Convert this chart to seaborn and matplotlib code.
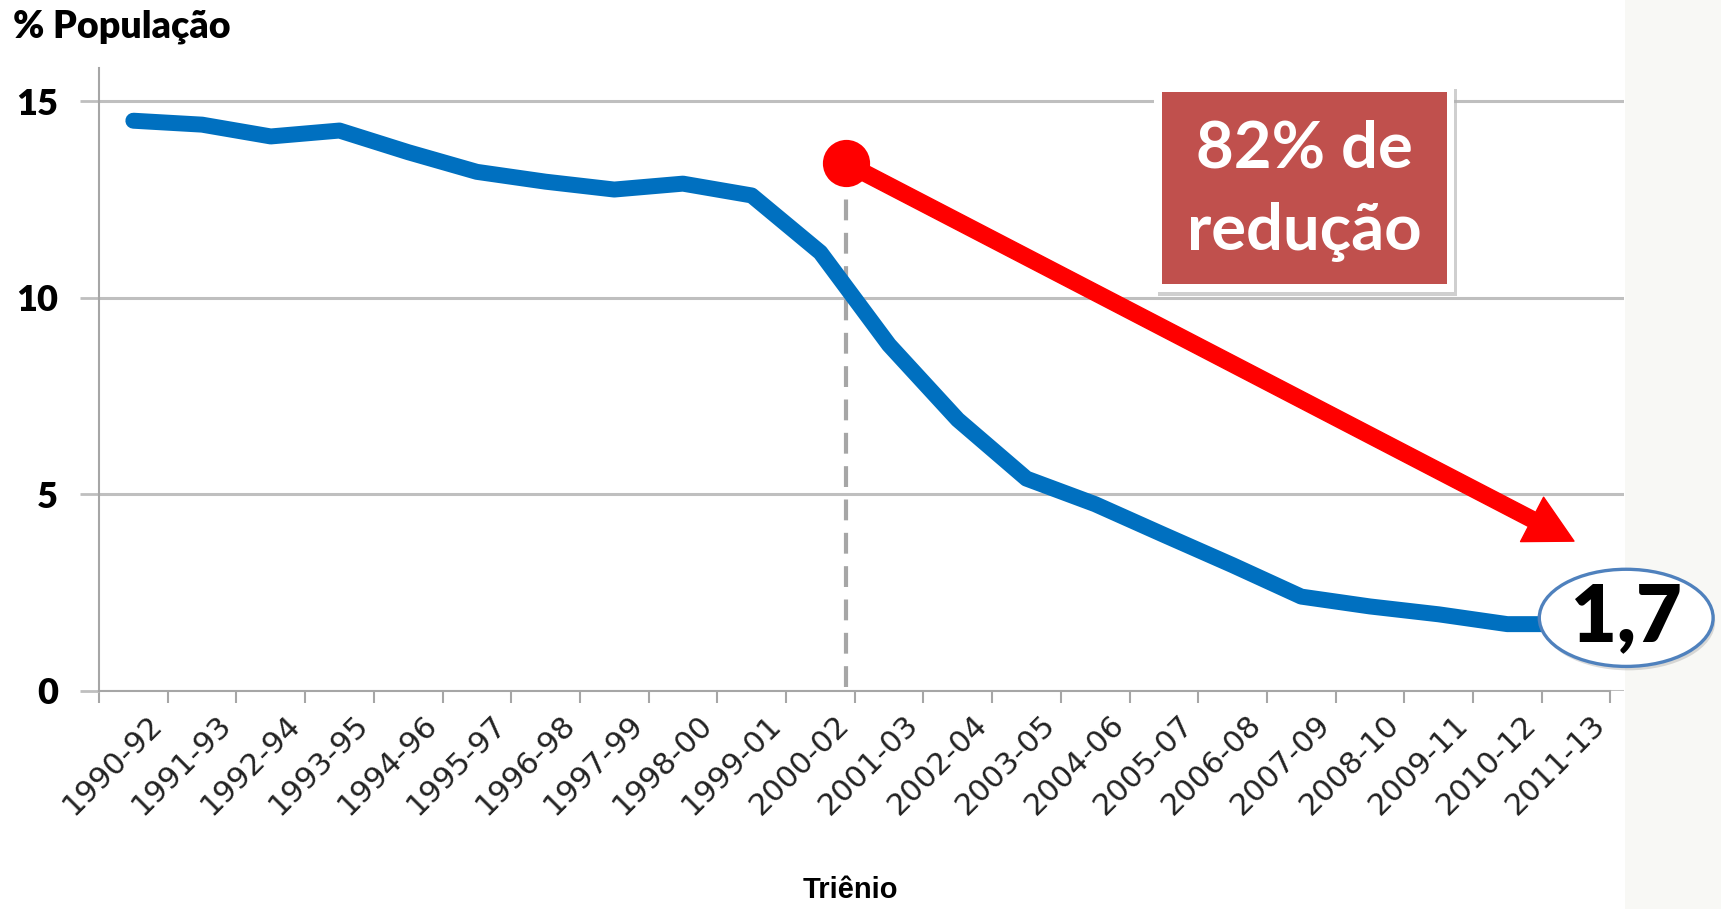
import matplotlib
matplotlib.use("Agg")
import matplotlib.pyplot as plt
import seaborn as sns
import pandas as pd
import numpy as np
from matplotlib.patches import Rectangle, Ellipse, FancyArrowPatch

# data
trienios = ["1990-92", "1991-93", "1992-94", "1993-95", "1994-96", "1995-97",
            "1996-98", "1997-99", "1998-00", "1999-01", "2000-02", "2001-03",
            "2002-04", "2003-05", "2004-06", "2005-07", "2006-08", "2007-09",
            "2008-10", "2009-11", "2010-12", "2011-13"]
pct_pop = [14.5, 14.4, 14.1, 14.25, 13.7, 13.2, 12.95, 12.75, 12.9, 12.6, 11.15,
           8.8, 6.9, 5.4, 4.75, 3.97, 3.2, 2.4, 2.15, 1.95, 1.7, 1.7]
y_ticks = [0, 5, 10, 15]
final_label = "1,7"
box_text = "82% de\nredução"

# annotation anchors (data coords)
marker_x, marker_y = 10.37, 13.42
arrow_tip = (20.97, 3.81)
dash_top = 12.56
bubble_xy = (21.73, 1.86)
label_shift = 0.36  # excel puts rotated labels a bit right of the category centre

W_PX, H_PX = 1721, 909


def fx(px):
    return px / W_PX


def fy(py):
    return 1 - py / H_PX


def set_style():
    sns.set_theme(style="white")
    plt.rcParams['font.family'] = ['Lato', 'DejaVu Sans']


set_style()

df = pd.DataFrame({"pos": np.arange(len(trienios)), "trienio": trienios, "pct": pct_pop})

fig = plt.figure(figsize=(W_PX / 100, H_PX / 100), dpi=100)
fig.patch.set_facecolor("white")
# light slide backdrop on the right
fig.add_artist(Rectangle((fx(1625), 0), 1 - fx(1625), 1, transform=fig.transFigure,
                         facecolor="#F8F8F5", edgecolor="none", zorder=-5))

ax = fig.add_axes([fx(99), fy(691), fx(1624) - fx(99), fy(68) - fy(691)])
ax.set_facecolor("white")

sns.lineplot(data=df, x="pos", y="pct", ax=ax, color="#0070C0", linewidth=11.5,
             solid_capstyle="round", solid_joinstyle="round", zorder=3)

ax.set_xlim(-0.5, -0.5 + (1624 - 99) / 68.7)
ax.set_ylim(0, (691 - 68) / 39.33)

# y axis
ax.set_yticks(y_ticks)
ax.set_yticklabels([str(t) for t in y_ticks], fontsize=26, fontweight="heavy", color="black")
ax.yaxis.grid(True, color="#BFBFBF", linewidth=2.2)
ax.tick_params(axis="y", length=13.7, width=2, color="#BFBFBF", pad=16, left=True)

# x axis: labels near centres, marks at boundaries
ax.set_xticks(df["pos"] + label_shift)
ax.set_xticklabels(trienios, rotation=45, ha="right", va="center",
                   rotation_mode="anchor", fontsize=22, color="#222222",
                   family="DejaVu Sans")
ax.set_xticks(np.arange(-0.5, len(trienios), 1.0), minor=True)
ax.tick_params(axis="x", which="major", length=0, pad=21, bottom=True)
ax.tick_params(axis="x", which="minor", length=8.6, width=1.5, color="#A6A6A6",
               bottom=True, direction="out")
ax.set_xlabel("")
ax.set_ylabel("")

for s in ["top", "right"]:
    ax.spines[s].set_visible(False)
ax.spines["left"].set_color("#A6A6A6")
ax.spines["left"].set_linewidth(1.5)
ax.spines["bottom"].set_color("#A6A6A6")
ax.spines["bottom"].set_linewidth(1.5)
ax.spines["bottom"].set_bounds(-0.5, len(trienios) - 0.5)

# dashed reference line
ax.plot([marker_x, marker_x], [0.1, dash_top], color="#A6A6A6", linewidth=3,
        linestyle=(0, (5, 3)), zorder=2)

# red arrow with dot
arrow = FancyArrowPatch((marker_x, marker_y), arrow_tip,
                        arrowstyle="simple,head_length=34,head_width=36,tail_width=11.5",
                        mutation_scale=1, color="#FF0000", shrinkA=0, shrinkB=0, zorder=5)
ax.add_patch(arrow)
ax.plot([marker_x], [marker_y], marker="o", markersize=34, color="#FF0000",
        markeredgewidth=0, zorder=6)

# final value bubble
shadow = Ellipse((bubble_xy[0] + 0.03, bubble_xy[1] - 0.1), 2.53, 2.47,
                 facecolor="#999999", alpha=0.35, edgecolor="none", zorder=6, clip_on=False)
ax.add_patch(shadow)
bubble = Ellipse(bubble_xy, 2.53, 2.47, facecolor="white", edgecolor="#4F81BD",
                 linewidth=2.4, zorder=7, clip_on=False)
ax.add_patch(bubble)
ax.text(bubble_xy[0], bubble_xy[1], final_label, ha="center", va="center",
        fontsize=57, fontweight="heavy", color="black", zorder=8, clip_on=False)

# reduction box
fig.add_artist(Rectangle((fx(1158), fy(296)), fx(1457) - fx(1158), fy(89) - fy(296),
                         transform=fig.transFigure, facecolor="#B0B0B0", alpha=0.6,
                         edgecolor="none", zorder=3))
fig.add_artist(Rectangle((fx(1154), fy(292)), fx(1454) - fx(1154), fy(85) - fy(292),
                         transform=fig.transFigure, facecolor="white",
                         edgecolor="none", zorder=4))
fig.add_artist(Rectangle((fx(1162), fy(284)), fx(1447) - fx(1162), fy(92) - fy(284),
                         transform=fig.transFigure, facecolor="#C0504D",
                         edgecolor="none", zorder=5))
fig.text(fx(1304), fy(191), box_text, ha="center", va="center", fontsize=47,
         fontweight="bold", color="white", linespacing=1.5, zorder=6)

# titles
fig.text(fx(13), fy(37), "% População", ha="left", va="baseline", fontsize=27,
         fontweight="heavy", color="black")
fig.text(fx(850), fy(890), "Triênio", ha="center", va="center", fontsize=21,
         fontweight="bold", color="black", family=["Liberation Sans", "DejaVu Sans"])

fig.savefig("out.png", dpi=100)
plt.close(fig)
